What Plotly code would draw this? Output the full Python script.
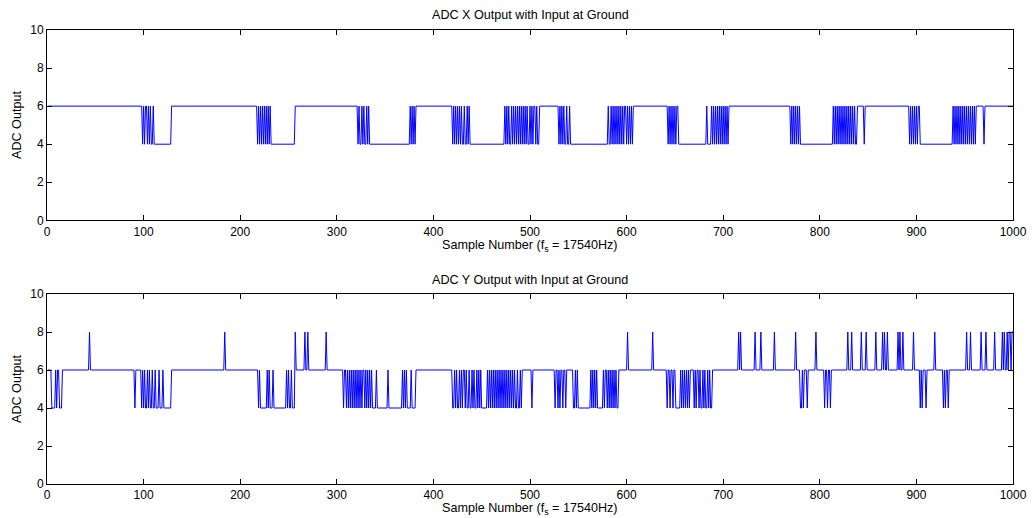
import plotly.graph_objects as go

# Step descriptions: from sample N onward the output holds value V
x_change_at = [1, 99, 100, 101, 102, 104, 105, 106, 107, 108, 110, 111, 129,
               218, 219, 220, 221, 222, 223, 224, 225, 226, 227, 228, 229, 230, 231, 232, 257,
               322, 323, 324, 326, 327, 328, 329, 331, 332, 333, 334,
               376, 377, 378, 379, 380, 381, 382,
               420, 421, 422, 423, 424, 425, 426, 427, 428, 429, 430, 432, 433, 435, 436, 437, 438,
               474, 475, 476, 477, 478, 479, 481, 482, 483, 484, 485, 486, 487, 488, 489, 490, 491,
               492, 493, 494, 495, 496, 497, 498, 500, 501, 502, 503, 504, 506, 507, 508, 510,
               530, 531, 532, 533, 534, 535, 536, 538, 539, 541, 542,
               581, 582, 584, 585, 586, 587, 588, 589, 590, 591, 592, 593, 594, 595, 596, 597, 598,
               600, 601, 602, 603, 604, 605, 606, 607,
               643, 644, 645, 646, 647, 648, 649, 650, 651, 652, 654,
               683, 684, 688, 689, 690, 691, 692, 693, 694, 695, 696, 697, 698, 699, 700, 701, 702,
               703, 704, 705, 706, 707,
               770, 771, 772, 773, 774, 775, 776, 777, 778, 779, 780,
               814, 815, 816, 817, 818, 819, 820, 821, 822, 823, 824, 825, 826, 827, 828, 829, 830,
               831, 832, 833, 834, 835, 836, 837, 839, 846, 847,
               893, 894, 895, 896, 897, 898, 899, 900, 901, 902, 904,
               938, 939, 940, 941, 942, 943, 944, 945, 946, 947, 948, 949, 950, 951, 952, 953, 954,
               955, 956, 957, 958, 959, 960, 961, 962, 970, 971]
x_change_val = [6, 4, 6, 4, 6, 4, 6, 4, 6, 4, 6, 4, 6,
                4, 6, 4, 6, 4, 6, 4, 6, 4, 6, 4, 6, 4, 6, 4, 6,
                4, 6, 4, 6, 4, 6, 4, 6, 4, 6, 4,
                6, 4, 6, 4, 6, 4, 6,
                4, 6, 4, 6, 4, 6, 4, 6, 4, 6, 4, 6, 4, 6, 4, 6, 4,
                6, 4, 6, 4, 6, 4, 6, 4, 6, 4, 6, 4, 6, 4, 6, 4, 6,
                4, 6, 4, 6, 4, 6, 4, 6, 4, 6, 4, 6, 4, 6, 4, 6,
                4, 6, 4, 6, 4, 6, 4, 6, 4, 6, 4,
                6, 4, 6, 4, 6, 4, 6, 4, 6, 4, 6, 4, 6, 4, 6, 4, 6,
                4, 6, 4, 6, 4, 6, 4, 6,
                4, 6, 4, 6, 4, 6, 4, 6, 4, 6, 4,
                6, 4, 6, 4, 6, 4, 6, 4, 6, 4, 6, 4, 6, 4, 6, 4, 6,
                4, 6, 4, 6, 6,
                4, 6, 4, 6, 4, 6, 4, 6, 4, 6, 4,
                6, 4, 6, 4, 6, 4, 6, 4, 6, 4, 6, 4, 6, 4, 6, 4, 6,
                4, 6, 4, 6, 4, 6, 4, 6, 4, 6,
                4, 6, 4, 6, 4, 6, 4, 6, 4, 6, 4,
                6, 4, 6, 4, 6, 4, 6, 4, 6, 4, 6, 4, 6, 4, 6, 4, 6,
                4, 6, 4, 6, 4, 6, 4, 6, 4, 6]

y_change_at = [1, 5, 9, 10, 11, 13, 16, 44, 45, 91, 92,
               98, 99, 100, 101, 102, 104, 105, 106, 107, 109, 110, 112, 113, 116, 117, 120, 121, 129,
               184, 185,
               219, 220, 221, 228, 229, 230, 231, 234, 235, 248, 249, 250, 251, 253, 254,
               257, 258, 267, 268, 270, 271, 289, 290,
               307, 308, 310, 311, 312, 313, 314, 315, 316, 317, 318, 319, 320, 321, 322, 323, 324,
               325, 326, 327, 329, 330, 331, 332, 333, 334, 335, 336, 337, 341, 342, 353, 354,
               368, 369, 370, 371, 372, 373, 377, 378, 382,
               420, 422, 423, 424, 425, 427, 428, 429, 430, 431, 433, 434, 435, 437, 438, 440, 441,
               442, 443, 445, 446, 447, 448, 449, 450,
               456, 457, 458, 459, 460, 461, 462, 463, 464, 465, 466, 467, 468, 469, 470, 471, 472,
               473, 474, 475, 476, 477, 478, 479, 480, 481, 482, 483, 484, 485, 487, 488, 490, 491, 492,
               502, 503,
               526, 527, 529, 530, 531, 532, 534, 535, 537, 538, 545, 547, 548, 549, 550,
               563, 564, 565, 566, 567, 568, 569, 570,
               576, 577, 578, 580, 581, 582, 583, 584, 585, 586, 587, 588, 589, 590, 592,
               601, 602, 627, 628,
               642, 643, 645, 646, 648, 649, 651, 652,
               656, 657, 658, 659, 660, 661, 662, 663, 664, 665, 666,
               670, 671, 672, 673, 675, 676, 677, 679, 680, 681, 682, 684, 685, 686, 687, 689,
               716, 717, 718, 719, 733, 734, 739, 740,
               753, 754, 775, 776,
               780, 782, 783, 784, 787, 788,
               796, 797,
               805, 806, 808, 809, 811, 812,
               829, 830, 833, 834, 843, 844, 848, 849,
               858, 859, 865, 866, 867, 868, 870, 871,
               881, 882, 883, 884, 886, 887, 897, 898,
               904, 905, 906, 907, 910, 911, 919, 920,
               928, 929, 930, 931, 933, 934,
               952, 953, 956, 957, 967, 968, 972, 973, 981, 982,
               989, 990, 991, 992, 994, 995, 996, 998, 999]
y_change_val = [6, 4, 6, 4, 6, 4, 6, 8, 6, 4, 6,
                4, 6, 4, 6, 4, 6, 4, 6, 4, 6, 4, 6, 4, 6, 4, 6, 4, 6,
                8, 6,
                4, 6, 4, 6, 4, 6, 4, 6, 4, 6, 4, 6, 4, 6, 4,
                8, 6, 8, 6, 8, 6, 8, 6,
                4, 6, 4, 6, 4, 6, 4, 6, 4, 6, 4, 6, 4, 6, 4, 6, 4,
                6, 4, 6, 4, 6, 4, 6, 4, 6, 4, 6, 4, 6, 4, 6, 4,
                6, 4, 6, 4, 6, 4, 6, 4, 6,
                4, 6, 4, 6, 4, 6, 4, 6, 4, 6, 4, 6, 4, 6, 4, 6, 4,
                6, 4, 6, 4, 6, 4, 6, 4,
                6, 4, 6, 4, 6, 4, 6, 4, 6, 4, 6, 4, 6, 4, 6, 4, 6,
                4, 6, 4, 6, 4, 6, 4, 6, 4, 6, 4, 6, 4, 6, 4, 6, 4, 6,
                4, 6,
                4, 6, 4, 6, 4, 6, 4, 6, 4, 6, 4, 6, 4, 6, 4,
                6, 4, 6, 4, 6, 4, 6, 4,
                6, 4, 6, 4, 6, 4, 6, 4, 6, 4, 6, 4, 6, 4, 6,
                8, 6, 8, 6,
                4, 6, 4, 6, 4, 6, 4, 4,
                6, 4, 6, 4, 6, 4, 6, 4, 6, 4, 6,
                4, 6, 4, 6, 4, 6, 4, 6, 4, 6, 4, 6, 4, 6, 4, 6,
                8, 6, 8, 6, 8, 6, 8, 6,
                8, 6, 8, 6,
                4, 6, 4, 6, 4, 6,
                8, 6,
                4, 6, 4, 6, 4, 6,
                8, 6, 8, 6, 8, 6, 8, 6,
                8, 6, 8, 6, 8, 6, 8, 6,
                8, 6, 8, 6, 8, 6, 8, 6,
                4, 6, 4, 6, 4, 6, 8, 6,
                4, 6, 4, 6, 4, 6,
                8, 6, 8, 6, 8, 6, 8, 6, 8, 6,
                8, 6, 8, 6, 8, 6, 8, 6, 8]

n_samples = 1000
x_ticks = [0, 100, 200, 300, 400, 500, 600, 700, 800, 900, 1000]
y_ticks = [0, 2, 4, 6, 8, 10]
title_x = "ADC X Output with Input at Ground"
title_y = "ADC Y Output with Input at Ground"
xlabel = "Sample Number (f<sub>s</sub> = 17540Hz)"
ylabel = "ADC Output"


def expand(change_at, change_val, n):
    out = []
    idx = 0
    cur = change_val[0]
    for s in range(1, n + 1):
        while idx < len(change_at) and change_at[idx] <= s:
            cur = change_val[idx]
            idx += 1
        out.append(cur)
    return out


samples = list(range(1, n_samples + 1))
adc_x = expand(x_change_at, x_change_val, n_samples)
adc_y = expand(y_change_at, y_change_val, n_samples)

FONT = "Liberation Sans, Arial, Helvetica, sans-serif"

fig = go.Figure()
fig.add_trace(go.Scatter(x=samples, y=adc_x, mode="lines",
                         line=dict(color="#0000ff", width=1), xaxis="x", yaxis="y",
                         showlegend=False, hoverinfo="skip"))
fig.add_trace(go.Scatter(x=samples, y=adc_y, mode="lines",
                         line=dict(color="#0000ff", width=1), xaxis="x2", yaxis="y2",
                         showlegend=False, hoverinfo="skip"))

axis_common = dict(showgrid=False, zeroline=False, showline=True, linecolor="black",
                   linewidth=1, mirror="ticks", ticks="inside", ticklen=5,
                   tickcolor="black", automargin=False,
                   tickfont=dict(family=FONT, size=12, color="black"))

fig.update_layout(
    width=1033, height=518,
    margin=dict(l=47, r=20, t=30, b=34, autoexpand=False),
    paper_bgcolor="white", plot_bgcolor="white",
    font=dict(family=FONT, size=12, color="black"),
    xaxis=dict(domain=[0, 1], anchor="y", range=[0, 1000], tickvals=x_ticks, **axis_common),
    yaxis=dict(domain=[0.5808, 1], anchor="x", range=[0, 10], tickvals=y_ticks, **axis_common),
    xaxis2=dict(domain=[0, 1], anchor="y2", range=[0, 1000], tickvals=x_ticks, **axis_common),
    yaxis2=dict(domain=[0, 0.4185], anchor="x2", range=[0, 10], tickvals=y_ticks, **axis_common),
)

TS = 12.6
annots = [
    dict(text=title_x, x=0.5, y=(484 - 15) / 454),
    dict(text=title_y, x=0.5, y=(484 - 280) / 454),
    dict(text=xlabel, x=0.5, y=(484 - 246) / 454),
    dict(text=xlabel, x=0.5, y=(484 - 509) / 454),
    dict(text=ylabel, x=(17 - 47) / 966, y=(484 - 125) / 454, textangle=-90),
    dict(text=ylabel, x=(17 - 47) / 966, y=(484 - 389) / 454, textangle=-90),
]
for a in annots:
    fig.add_annotation(xref="paper", yref="paper", showarrow=False,
                       xanchor="center", yanchor="middle",
                       font=dict(family=FONT, size=TS, color="black"), **a)

fig.write_html("out.html")
